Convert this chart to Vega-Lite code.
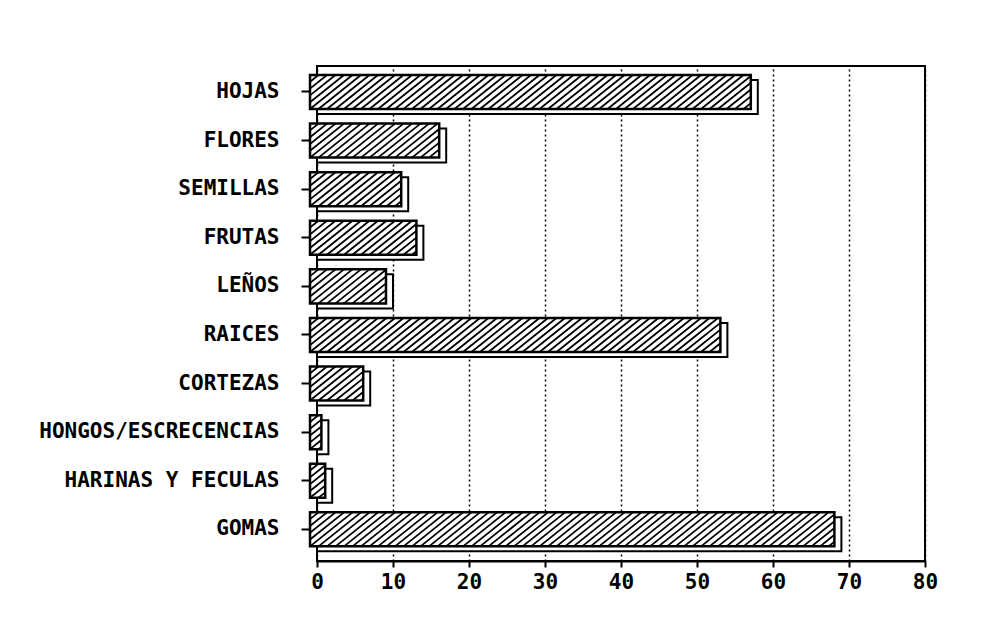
{
  "$schema": "https://vega.github.io/schema/vega-lite/v6.json",
  "width": 608,
  "height": 495,
  "autosize": {"type": "none"},
  "padding": {"left": 317, "top": 66, "right": 66, "bottom": 65},
  "background": "white",
  "config": {"view": {"stroke": "black", "strokeWidth": 2}, "font": "DejaVu Sans Mono"},
  "data": {"values": [
    {"cat": "HOJAS", "v": 58},
    {"cat": "FLORES", "v": 17},
    {"cat": "SEMILLAS", "v": 12},
    {"cat": "FRUTAS", "v": 14},
    {"cat": "LEÑOS", "v": 10},
    {"cat": "RAICES", "v": 54},
    {"cat": "CORTEZAS", "v": 7},
    {"cat": "HONGOS/ESCRECENCIAS", "v": 1.5},
    {"cat": "HARINAS Y FECULAS", "v": 2},
    {"cat": "GOMAS", "v": 69}
  ]},
  "encoding": {
    "y": {
      "field": "cat", "type": "nominal",
      "sort": ["HOJAS","FLORES","SEMILLAS","FRUTAS","LEÑOS","RAICES","CORTEZAS","HONGOS/ESCRECENCIAS","HARINAS Y FECULAS","GOMAS"],
      "scale": {"paddingInner": 0.3, "paddingOuter": 0.243, "align": 0.38},
      "axis": {"title": null, "domain": false, "ticks": true, "tickSize": 9, "tickWidth": 2, "tickColor": "black", "offset": 7, "labelPadding": 22, "labelLimit": 0, "labelFont": "DejaVu Sans Mono", "labelFontWeight": "bold", "labelFontSize": 21, "labelColor": "black", "grid": false}
    }
  },
  "layer": [
    {
      "mark": {"type": "bar", "fill": "white", "stroke": "black", "strokeWidth": 2, "yOffset": 5, "y2Offset": 5},
      "encoding": {
        "x": {"field": "v", "type": "quantitative",
          "scale": {"domain": [0, 80], "nice": false},
          "axis": {"title": null, "values": [0,10,20,30,40,50,60,70,80], "grid": true, "gridColor": "black", "gridDash": [2,3], "gridWidth": 1.5, "domainColor": "black", "domainWidth": 2, "tickColor": "black", "tickWidth": 2, "tickSize": 6, "labelFont": "DejaVu Sans Mono", "labelFontWeight": "bold", "labelFontSize": 21, "labelColor": "black", "labelPadding": 4, "labelFlush": false}
        }
      }
    },
    {
      "mark": {"type": "bar", "fill": "white", "stroke": "black", "strokeWidth": 2.5, "xOffset": -7, "x2Offset": -7},
      "encoding": {"x": {"field": "v", "type": "quantitative"}}
    },
    {
      "mark": {"type": "point", "filled": false, "stroke": "black", "strokeWidth": 1.8, "size": 1156, "opacity": 1, "xOffset": -7},
      "encoding": {
        "x": {"datum": 0, "type": "quantitative"},
        "shape": {
          "condition": [
            {"test": "datum.cat === 'HOJAS'", "value": "M0 .6L2 -1M0 .2L1.5 -1M0 -.2L1 -1M0 -.6L.5 -1M0 1l2.5 -2m-2 2l2.5 -2m-2 2l2.5 -2m-2 2l2.5 -2m-2 2l2.5 -2m-2 2l2.5 -2m-2 2l2.5 -2m-2 2l2.5 -2m-2 2l2.5 -2m-2 2l2.5 -2m-2 2l2.5 -2m-2 2l2.5 -2m-2 2l2.5 -2m-2 2l2.5 -2m-2 2l2.5 -2m-2 2l2.5 -2m-2 2l2.5 -2m-2 2l2.5 -2m-2 2l2.5 -2m-2 2l2.5 -2m-2 2l2.5 -2m-2 2l2.5 -2m-2 2l2.5 -2m-2 2l2.5 -2m-2 2l2.5 -2m-2 2l2.5 -2m-2 2l2.5 -2m-2 2l2.5 -2m-2 2l2.5 -2m-2 2l2.5 -2m-2 2l2.5 -2m-2 2l2.5 -2m-2 2l2.5 -2m-2 2l2.5 -2m-2 2l2.5 -2m-2 2l2.5 -2m-2 2l2.5 -2m-2 2l2.5 -2m-2 2l2.5 -2m-2 2l2.5 -2m-2 2l2.5 -2m-2 2l2.5 -2m-2 2l2.5 -2m-2 2l2.5 -2m-2 2l2.5 -2m-2 2l2.5 -2m-2 2l2.5 -2M23.5 1L25.93 -.944M24 1L25.93 -.544M24.5 1L25.93 -.144M25 1L25.93 .256M25.5 1L25.93 .656"},
            {"test": "datum.cat === 'FLORES'", "value": "M0 .6L2 -1M0 .2L1.5 -1M0 -.2L1 -1M0 -.6L.5 -1M0 1l2.5 -2m-2 2l2.5 -2m-2 2l2.5 -2m-2 2l2.5 -2m-2 2l2.5 -2m-2 2l2.5 -2m-2 2l2.5 -2m-2 2l2.5 -2m-2 2l2.5 -2m-2 2l2.5 -2m-2 2l2.5 -2M5.5 1L7.6 -.68M6 1L7.6 -.28M6.5 1L7.6 .12M7 1L7.6 .52M7.5 1L7.6 .92"},
            {"test": "datum.cat === 'SEMILLAS'", "value": "M0 .6L2 -1M0 .2L1.5 -1M0 -.2L1 -1M0 -.6L.5 -1M0 1l2.5 -2m-2 2l2.5 -2m-2 2l2.5 -2m-2 2l2.5 -2m-2 2l2.5 -2m-2 2l2.5 -2M3 1L5.365 -.892M3.5 1L5.365 -.492M4 1L5.365 -.092M4.5 1L5.365 .308M5 1L5.365 .708"},
            {"test": "datum.cat === 'FRUTAS'", "value": "M0 .6L2 -1M0 .2L1.5 -1M0 -.2L1 -1M0 -.6L.5 -1M0 1l2.5 -2m-2 2l2.5 -2m-2 2l2.5 -2m-2 2l2.5 -2m-2 2l2.5 -2m-2 2l2.5 -2m-2 2l2.5 -2m-2 2l2.5 -2M4 1L6.259 -.807M4.5 1L6.259 -.407M5 1L6.259 -.007M5.5 1L6.259 .393M6 1L6.259 .793"},
            {"test": "datum.cat === 'LEÑOS'", "value": "M0 .6L2 -1M0 .2L1.5 -1M0 -.2L1 -1M0 -.6L.5 -1M0 1l2.5 -2m-2 2l2.5 -2m-2 2l2.5 -2m-2 2l2.5 -2M2 1L4.471 -.977M2.5 1L4.471 -.577M3 1L4.471 -.177M3.5 1L4.471 .223M4 1L4.471 .623"},
            {"test": "datum.cat === 'RAICES'", "value": "M0 .6L2 -1M0 .2L1.5 -1M0 -.2L1 -1M0 -.6L.5 -1M0 1l2.5 -2m-2 2l2.5 -2m-2 2l2.5 -2m-2 2l2.5 -2m-2 2l2.5 -2m-2 2l2.5 -2m-2 2l2.5 -2m-2 2l2.5 -2m-2 2l2.5 -2m-2 2l2.5 -2m-2 2l2.5 -2m-2 2l2.5 -2m-2 2l2.5 -2m-2 2l2.5 -2m-2 2l2.5 -2m-2 2l2.5 -2m-2 2l2.5 -2m-2 2l2.5 -2m-2 2l2.5 -2m-2 2l2.5 -2m-2 2l2.5 -2m-2 2l2.5 -2m-2 2l2.5 -2m-2 2l2.5 -2m-2 2l2.5 -2m-2 2l2.5 -2m-2 2l2.5 -2m-2 2l2.5 -2m-2 2l2.5 -2m-2 2l2.5 -2m-2 2l2.5 -2m-2 2l2.5 -2m-2 2l2.5 -2m-2 2l2.5 -2m-2 2l2.5 -2m-2 2l2.5 -2m-2 2l2.5 -2m-2 2l2.5 -2m-2 2l2.5 -2m-2 2l2.5 -2m-2 2l2.5 -2m-2 2l2.5 -2m-2 2l2.5 -2m-2 2l2.5 -2M22 1L24.14 -.712M22.5 1L24.14 -.312M23 1L24.14 .088M23.5 1L24.14 .488M24 1L24.14 .888"},
            {"test": "datum.cat === 'CORTEZAS'", "value": "M0 .6L2 -1M0 .2L1.5 -1M0 -.2L1 -1M0 -.6L.5 -1M0 1l2.5 -2m-2 2l2.5 -2M1 1L3.129 -.703M1.5 1L3.129 -.303M2 1L3.129 .097M2.5 1L3.129 .497M3 1L3.129 .897"},
            {"test": "datum.cat === 'HONGOS/ESCRECENCIAS'", "value": "M0 -.6L.5 -1M0 -.2L.671 -.737M0 .2L.671 -.337M0 .6L.671 .063M0 1L.671 .463M.5 1L.671 .863"},
            {"test": "datum.cat === 'HARINAS Y FECULAS'", "value": "M0 -.6L.5 -1M0 -.2L.894 -.915M0 .2L.894 -.515M0 .6L.894 -.115M0 1L.894 .285M.5 1L.894 .685"},
            {"test": "datum.cat === 'GOMAS'", "value": "M0 .6L2 -1M0 .2L1.5 -1M0 -.2L1 -1M0 -.6L.5 -1M0 1l2.5 -2m-2 2l2.5 -2m-2 2l2.5 -2m-2 2l2.5 -2m-2 2l2.5 -2m-2 2l2.5 -2m-2 2l2.5 -2m-2 2l2.5 -2m-2 2l2.5 -2m-2 2l2.5 -2M5 1l2.5 -2m-2 2l2.5 -2m-2 2l2.5 -2m-2 2l2.5 -2m-2 2l2.5 -2m-2 2l2.5 -2m-2 2l2.5 -2m-2 2l2.5 -2m-2 2l2.5 -2m-2 2l2.5 -2M10 1l2.5 -2m-2 2l2.5 -2m-2 2l2.5 -2m-2 2l2.5 -2m-2 2l2.5 -2m-2 2l2.5 -2m-2 2l2.5 -2m-2 2l2.5 -2m-2 2l2.5 -2m-2 2l2.5 -2M15 1l2.5 -2m-2 2l2.5 -2m-2 2l2.5 -2m-2 2l2.5 -2m-2 2l2.5 -2m-2 2l2.5 -2m-2 2l2.5 -2m-2 2l2.5 -2m-2 2l2.5 -2m-2 2l2.5 -2M20 1l2.5 -2m-2 2l2.5 -2m-2 2l2.5 -2m-2 2l2.5 -2m-2 2l2.5 -2m-2 2l2.5 -2m-2 2l2.5 -2m-2 2l2.5 -2m-2 2l2.5 -2m-2 2l2.5 -2M25 1l2.5 -2m-2 2l2.5 -2m-2 2l2.5 -2m-2 2l2.5 -2m-2 2l2.5 -2m-2 2l2.5 -2m-2 2l2.5 -2M28.5 1L30.85 -.88M29 1L30.85 -.48M29.5 1L30.85 -.08M30 1L30.85 .32M30.5 1L30.85 .72"}
          ],
          "value": "M0 0"
        }
      }
    }
  ]
}
